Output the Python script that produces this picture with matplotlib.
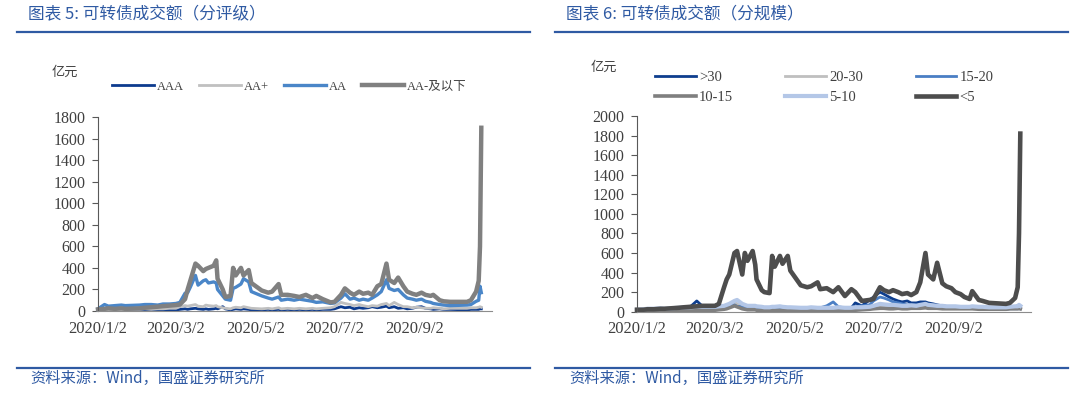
import matplotlib
matplotlib.use('Agg')
import matplotlib.pyplot as plt
from matplotlib.lines import Line2D
from matplotlib.font_manager import FontProperties
from datetime import datetime

# trading days sampled from the chart (both panels share the same dates)
DATES = [
    '2020-01-02', '2020-01-07', '2020-01-10', '2020-01-15', '2020-01-20', '2020-01-23',
    '2020-02-03', '2020-02-07', '2020-02-12', '2020-02-17', '2020-02-21', '2020-02-26',
    '2020-03-02', '2020-03-05', '2020-03-09', '2020-03-11', '2020-03-13', '2020-03-17',
    '2020-03-19', '2020-03-23', '2020-03-25', '2020-03-27', '2020-03-31',
    '2020-04-02', '2020-04-03', '2020-04-07', '2020-04-09', '2020-04-13', '2020-04-15',
    '2020-04-17', '2020-04-21', '2020-04-23', '2020-04-27', '2020-04-29',
    '2020-05-07', '2020-05-12', '2020-05-15', '2020-05-20', '2020-05-22', '2020-05-27',
    '2020-06-01', '2020-06-05', '2020-06-10', '2020-06-15', '2020-06-18', '2020-06-23', '2020-06-29',
    '2020-07-02', '2020-07-07', '2020-07-10', '2020-07-14', '2020-07-17', '2020-07-21',
    '2020-07-24', '2020-07-28', '2020-07-31',
    '2020-08-04', '2020-08-07', '2020-08-11', '2020-08-13', '2020-08-17', '2020-08-20',
    '2020-08-24', '2020-08-27', '2020-08-31',
    '2020-09-03', '2020-09-07', '2020-09-10', '2020-09-14', '2020-09-16', '2020-09-21',
    '2020-09-24', '2020-09-29',
    '2020-10-12', '2020-10-15', '2020-10-19', '2020-10-21', '2020-10-22', '2020-10-23',
]

# left panel: by rating (亿元)
AAA = [5, 5, 10, 5, 5, 5,
       5, 10, 10, 10, 10, 10,
       10, 15, 20, 15, 20, 25, 20, 15, 20, 15, 20,
       25, 20, 40, 20, 10, 15, 20, 15, 20, 15, 10,
       10, 15, 10, 15, 10, 15,
       10, 15, 10, 15, 10, 15, 15,
       20, 40, 30, 35, 20, 30, 25, 30, 40,
       30, 35, 45, 30, 40, 25, 30, 20, 25,
       35, 40, 25, 20, 15, 20, 15, 15,
       10, 15, 15, 15, 20, 20]
AA_PLUS = [5, 10, 10, 15, 10, 15,
           15, 20, 15, 20, 20, 25,
           25, 40, 50, 45, 50, 60, 45, 40, 55, 50, 45,
           50, 40, 30, 25, 20, 30, 35, 30, 40, 30, 25,
           20, 25, 20, 30, 20, 25,
           20, 25, 20, 25, 20, 25, 30,
           40, 80, 70, 60, 50, 60, 50, 40, 50,
           45, 60, 70, 50, 80, 60, 40, 40, 30,
           35, 30, 25, 25, 30, 25, 20, 25,
           25, 30, 30, 35, 40, 35]
AA = [20, 60, 45, 50, 55, 50,
      55, 60, 60, 55, 65, 65,
      70, 80, 165, 170, 220, 330, 240, 280, 290, 260, 270,
      260, 200, 140, 110, 100, 210, 220, 250, 300, 270, 180,
      140, 120, 110, 130, 100, 110,
      100, 110, 100, 90, 80, 85, 70,
      75, 120, 160, 110, 120, 100, 110, 100, 120,
      150, 180, 290, 210, 190, 200, 150, 120, 110,
      100, 110, 90, 80, 70, 60, 55, 50,
      55, 60, 90, 100, 230, 170]
AA_MINUS = [15, 20, 25, 20, 25, 20,
            25, 30, 35, 40, 45, 50,
            55, 60, 110, 200, 280, 440, 420, 370, 390, 400, 420,
            470, 300, 200, 130, 140, 400, 330, 400, 330, 380, 260,
            190, 170, 180, 250, 150, 150,
            140, 130, 150, 120, 140, 110, 80,
            85, 150, 210, 170, 150, 180, 160, 170, 150,
            230, 250, 440, 290, 260, 310, 230, 180, 160,
            150, 170, 150, 140, 150, 100, 90, 85,
            85, 100, 180, 280, 600, 1700]

# right panel: by issue size (亿元)
S_30 = [20, 25, 25, 25, 30, 30,
        40, 45, 50, 110, 60, 55,
        50, 50, 55, 60, 60, 70, 60, 55, 60, 55, 50,
        50, 45, 40, 35, 35, 40, 40, 45, 40, 35, 35,
        30, 30, 35, 30, 30, 35,
        30, 35, 35, 40, 90, 60, 120,
        150, 200, 180, 150, 130, 110, 100, 110, 90,
        90, 100, 100, 90, 80, 70, 60, 55, 50,
        45, 40, 40, 35, 40, 35, 30, 30,
        25, 30, 30, 30, 30, 30]
S_20_30 = [15, 15, 20, 20, 20, 20,
           25, 25, 25, 30, 30, 30,
           35, 40, 50, 60, 70, 100, 80, 70, 60, 55, 50,
           50, 45, 40, 40, 35, 40, 40, 40, 35, 35, 30,
           30, 30, 35, 30, 30, 30,
           30, 30, 30, 30, 30, 30, 35,
           40, 60, 60, 55, 50, 55, 50, 50, 50,
           50, 55, 60, 55, 50, 50, 45, 40, 40,
           40, 40, 35, 35, 35, 35, 30, 30,
           30, 30, 35, 35, 40, 40]
S_15_20 = [15, 20, 20, 25, 25, 25,
           30, 35, 40, 60, 45, 40,
           40, 45, 50, 55, 60, 70, 55, 50, 55, 50, 45,
           45, 40, 40, 35, 35, 40, 40, 40, 40, 35, 35,
           35, 35, 35, 35, 40, 60,
           100, 50, 40, 45, 50, 60, 70,
           110, 150, 140, 120, 100, 90, 80, 70, 70,
           70, 70, 80, 70, 60, 60, 50, 45, 45,
           40, 40, 40, 35, 40, 35, 35, 30,
           30, 35, 35, 40, 45, 50]
S_10_15 = [10, 10, 10, 10, 10, 10,
           10, 15, 15, 15, 15, 15,
           15, 20, 25, 30, 40, 60, 50, 30, 25, 20, 20,
           20, 15, 15, 15, 10, 15, 15, 15, 15, 10, 10,
           10, 10, 10, 10, 10, 10,
           10, 10, 15, 15, 15, 20, 25,
           30, 35, 35, 30, 30, 35, 30, 30, 35,
           35, 35, 40, 35, 35, 35, 30, 30, 30,
           30, 30, 30, 30, 30, 25, 25, 25,
           25, 30, 30, 30, 35, 30]
S_5_10 = [20, 25, 30, 30, 35, 30,
          40, 45, 45, 50, 50, 50,
          50, 55, 60, 70, 80, 110, 120, 80, 70, 60, 60,
          60, 55, 50, 45, 45, 50, 50, 55, 50, 45, 45,
          40, 40, 45, 40, 40, 40,
          40, 45, 40, 40, 45, 45, 50,
          60, 80, 75, 70, 70, 65, 60, 60, 65,
          60, 70, 80, 70, 65, 60, 60, 55, 55,
          55, 50, 50, 50, 55, 50, 50, 45,
          45, 50, 55, 55, 70, 60]
S_5 = [20, 20, 25, 25, 30, 30,
       40, 45, 50, 55, 60, 60,
       60, 80, 250, 330, 380, 600, 620, 380, 600, 520, 620,
       480, 330, 220, 200, 190, 570, 460, 570, 490, 570, 420,
       270, 250, 260, 300, 230, 240,
       200, 250, 160, 230, 200, 110, 120,
       130, 250, 220, 200, 220, 200, 180, 190, 170,
       200, 300, 600, 380, 330, 500, 290, 260, 240,
       200, 180, 150, 130, 210, 120, 110, 90,
       80, 90, 140, 250, 800, 1820]

TICK_DATES = ['2020-01-02', '2020-03-02', '2020-05-02', '2020-07-02', '2020-09-02']
TICK_LABELS = ['2020/1/2', '2020/3/2', '2020/5/2', '2020/7/2', '2020/9/2']

BLUE = '#2f5aa3'
TEXT = '#404040'
SERIF = ['Liberation Serif', 'Noto Sans CJK SC']

W, H = 1080, 393


def fx(px):
    return px / W


def fy(py):
    return 1 - py / H


def setup_axes(ax, ymax):
    ax.set_xlim(datetime(2020, 1, 2), datetime(2020, 10, 31))
    ax.set_ylim(0, ymax)
    ax.set_yticks(range(0, ymax + 1, 200))
    ax.set_xticks([datetime.strptime(d, '%Y-%m-%d') for d in TICK_DATES])
    ax.set_xticklabels(TICK_LABELS)
    for side in ['top', 'right']:
        ax.spines[side].set_visible(False)
    ax.spines['left'].set_color('#595959')
    ax.spines['bottom'].set_color('#8c8c8c')
    ax.tick_params(axis='y', direction='out', length=4, width=0.8, color='#595959', pad=5)
    ax.tick_params(axis='x', length=0, pad=7)
    for lab in ax.get_yticklabels():
        lab.set_fontproperties(FontProperties(family=SERIF, size=11.5))
        lab.set_color(TEXT)
    for lab in ax.get_xticklabels():
        lab.set_fontproperties(FontProperties(family=SERIF, size=12))
        lab.set_color(TEXT)


def panel_frame(x0, x1, title, unit_xy):
    fig.text(fx(x0 + 11), fy(15), title, fontsize=12, color=BLUE,
             family=['Noto Sans CJK SC'], va='center')
    fig.add_artist(Line2D([fx(x0), fx(x1)], [fy(32.3)] * 2, color=BLUE, lw=1.6,
                          transform=fig.transFigure))
    fig.add_artist(Line2D([fx(x0), fx(x1)], [fy(367.7)] * 2, color=BLUE, lw=1.6,
                          transform=fig.transFigure))
    fig.text(fx(x0 + 14), fy(378.5), '资料来源：Wind，国盛证券研究所', fontsize=11,
             color=BLUE, family=['Noto Sans CJK SC'], va='center')
    fig.text(fx(unit_xy[0]), fy(unit_xy[1]), '亿元', fontsize=9.5, color=TEXT,
             family=['Noto Sans CJK SC'], va='center')


dates = [datetime.strptime(d, '%Y-%m-%d') for d in DATES]

fig = plt.figure(figsize=(10.8, 3.93), dpi=100)
fig.patch.set_facecolor('white')

# ---- left panel ----
ax1 = fig.add_axes([fx(98), fy(311), fx(393.7), (311 - 117) / H])
left_series = [
    ('AAA', AAA, '#0d3b8e', 2.0),
    ('AA+', AA_PLUS, '#c0c0c0', 2.0),
    ('AA', AA, '#4a86c8', 2.4),
    ('AA-及以下', AA_MINUS, '#808080', 3.2),
]
for name, vals, color, lw in left_series:
    ax1.plot(dates, vals, color=color, lw=lw, label=name, clip_on=False,
             solid_joinstyle='round')
setup_axes(ax1, 1800)
ax1.legend(loc='center left', bbox_to_anchor=(fx(111.5), fy(86.7)),
           bbox_transform=fig.transFigure, ncol=4, frameon=False,
           prop=FontProperties(family=SERIF, size=9),
           handlelength=3.4, handletextpad=0.2, columnspacing=1.2,
           borderpad=0, borderaxespad=0, labelcolor=TEXT)
panel_frame(16.6, 530, '图表 5: 可转债成交额（分评级）', (52, 72))

# ---- right panel ----
ax2 = fig.add_axes([fx(637), fy(311.7), fx(393.7), (311.7 - 116) / H])
right_series = [
    ('>30', S_30, '#0e3e8e', 2.0),
    ('20-30', S_20_30, '#bfbfbf', 2.0),
    ('15-20', S_15_20, '#4a7ec4', 2.0),
    ('10-15', S_10_15, '#7f7f7f', 2.6),
    ('5-10', S_5_10, '#b4c7e7', 3.0),
    ('<5', S_5, '#4d4d4d', 3.3),
]
lines = {}
for name, vals, color, lw in right_series:
    lines[name], = ax2.plot(dates, vals, color=color, lw=lw, label=name, clip_on=False,
                            solid_joinstyle='round')
setup_axes(ax2, 2000)
# legend fills column by column, so order the entries to read row by row
order = ['>30', '10-15', '20-30', '5-10', '15-20', '<5']
ax2.legend([lines[n] for n in order], order, loc='center left',
           bbox_to_anchor=(fx(655), fy(87.2)), bbox_transform=fig.transFigure,
           ncol=3, frameon=False,
           prop=FontProperties(family=['Liberation Serif', 'DejaVu Sans'], size=10.5),
           handlelength=2.8, handletextpad=0.2, columnspacing=3.6, labelspacing=0.45,
           borderpad=0, borderaxespad=0, labelcolor=TEXT)
panel_frame(555, 1068, '图表 6: 可转债成交额（分规模）', (591, 67))

fig.savefig('out.png', dpi=100)
